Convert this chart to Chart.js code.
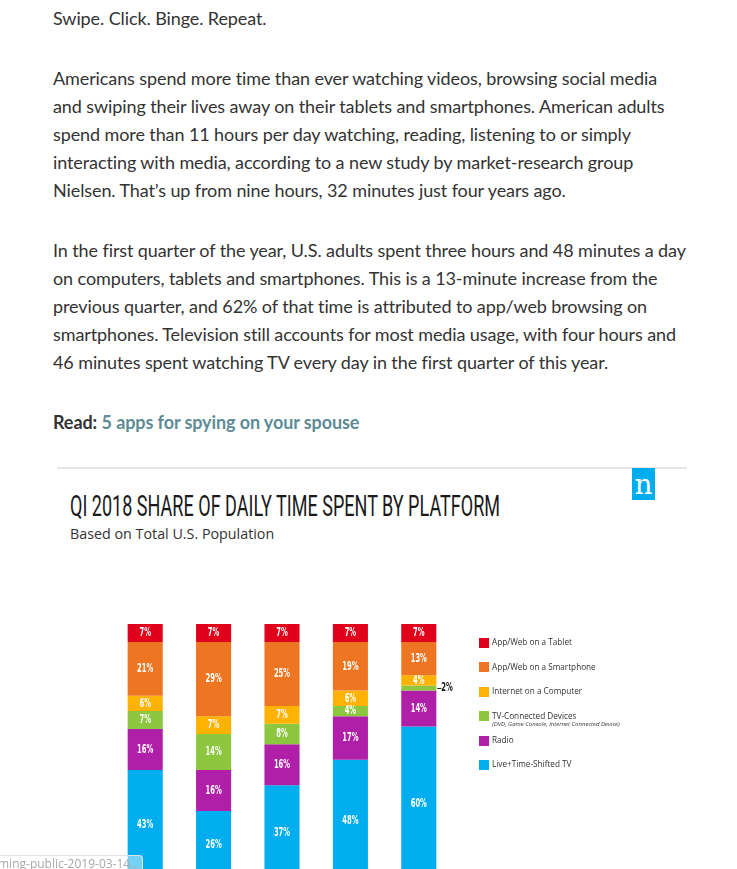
<!DOCTYPE html>
<html>
<head>
<meta charset="utf-8">
<script src="https://cdn.jsdelivr.net/npm/chart.js@4.4.1/dist/chart.umd.min.js"></script>
<style>
  html, body { margin:0; padding:0; background:#fff; overflow:hidden; width:737px; height:869px; }
  body { position:relative; font-family: Lato, "Open Sans", sans-serif; color:#333; }
  .article { position:absolute; left:53px; top:4px; font-size:18px; line-height:28px; white-space:nowrap; letter-spacing:-0.1px; }
  .article p { margin:0 0 32px 0; }
  .article a { color:#5e8c96; font-weight:bold; text-decoration:none; }
  .rule { position:absolute; left:57px; top:467px; width:630px; height:2px; background:#e3e6e9; }
  .logo { position:absolute; left:632px; top:468px; width:23px; height:32px; background:#00aeef; color:#fff;
          font-family:"DejaVu Serif", "Liberation Serif", serif; font-size:28px; line-height:33px; text-align:center; }
  .title { position:absolute; left:70px; top:491px; font-family:Roboto, sans-serif; font-size:29px; line-height:30px;
           color:#1a1a1a; white-space:nowrap; transform-origin:0 0; }
  .subtitle { position:absolute; left:70px; top:524px; font-family:"Open Sans", sans-serif; font-size:14.3px; color:#333; white-space:nowrap; }
  #chartWrap { position:absolute; left:0; top:600px; width:737px; height:300px; }
  .status { position:absolute; left:0; top:855px; width:142px; height:18px; background:rgba(255,255,255,0.45);
            border-top:1px solid #e2e2e2; border-right:1px solid #e2e2e2; border-top-right-radius:4px; overflow:hidden;
            font-family:"Open Sans", sans-serif; font-size:12px; line-height:16px; color:#a8a8a8; white-space:nowrap; }
  .status span { position:relative; left:-2px; }
</style>
</head>
<body>
<div class="article">
  <p>Swipe. Click. Binge. Repeat.</p>
  <p>Americans spend more time than ever watching videos, browsing social media<br>and swiping their lives away on their tablets and smartphones. American adults<br>spend more than 11 hours per day watching, reading, listening to or simply<br>interacting with media, according to a new study by market-research group<br>Nielsen. That’s up from nine hours, 32 minutes just four years ago.</p>
  <p>In the first quarter of the year, U.S. adults spent three hours and 48 minutes a day<br>on computers, tablets and smartphones. This is a 13-minute increase from the<br>previous quarter, and 62% of that time is attributed to app/web browsing on<br>smartphones. Television still accounts for most media usage, with four hours and<br>46 minutes spent watching TV every day in the first quarter of this year.</p>
  <p><b>Read:</b> <a href="#">5 apps for spying on your spouse</a></p>
</div>
<div class="rule"></div>
<div class="logo">n</div>
<div class="title" id="title">QI 2018 SHARE OF DAILY TIME SPENT BY PLATFORM</div>
<div class="subtitle">Based on Total U.S. Population</div>
<div id="chartWrap"><canvas id="c" width="737" height="300"></canvas></div>
<div class="status"><span>ming-public-2019-03-14...</span></div>
<script>
// ---- data ----
const categories = ["Bar 1", "Bar 2", "Bar 3", "Bar 4", "Bar 5"];
const seriesNames = ["App/Web on a Tablet", "App/Web on a Smartphone", "Internet on a Computer",
                     "TV-Connected Devices", "Radio", "Live+Time-Shifted TV"];
const tablet      = [7, 7, 7, 7, 7];
const smartphone  = [21, 29, 25, 19, 13];
const computer    = [6, 7, 7, 6, 4];
const tvConnected = [7, 14, 8, 4, 2];
const radio       = [16, 16, 16, 17, 14];
const liveTV      = [43, 26, 37, 48, 60];
const seriesColors = ["#e0001b", "#ee7623", "#ffb300", "#8dc63f", "#b01fa8", "#00aeef"];
const tvConnectedNote = "(DVD, Game Console, Internet Connected Device)";

// fit title width
const t = document.getElementById('title');
t.style.transform = 'scaleX(' + (430 / t.scrollWidth) + ')';

const seriesValues = [tablet, smartphone, computer, tvConnected, radio, liveTV];

const labelPlugin = {
  id: 'segLabels',
  afterDatasetsDraw(chart) {
    const ctx = chart.ctx;
    chart.data.datasets.forEach((ds, di) => {
      const meta = chart.getDatasetMeta(di);
      meta.data.forEach((bar, i) => {
        const v = ds.data[i];
        const cy = (bar.y + bar.base) / 2;
        ctx.save();
        ctx.textBaseline = 'middle';
        ctx.font = 'bold 13px "DejaVu Sans Condensed", "DejaVu Sans", sans-serif';
        if (v < 3) {
          const xr = bar.x + bar.width / 2;
          ctx.strokeStyle = '#222';
          ctx.lineWidth = 1;
          ctx.beginPath(); ctx.moveTo(xr + 1, cy + 0.5); ctx.lineTo(xr + 5, cy + 0.5); ctx.stroke();
          ctx.fillStyle = '#111';
          ctx.translate(xr + 5, cy);
          ctx.scale(0.58, 1);
          ctx.textAlign = 'left';
          ctx.fillText(v + '%', 0, 0);
        } else {
          ctx.fillStyle = '#fff';
          ctx.translate(bar.x, cy);
          ctx.scale(0.58, 1);
          ctx.textAlign = 'center';
          ctx.fillText(v + '%', 0, 0);
        }
        ctx.restore();
      });
    });
    // legend
    const top = chart.canvas.parentNode.offsetTop;
    chart.data.datasets.forEach((ds, di) => {
      const y = 643 + di * 24.4 - top;
      ctx.save();
      ctx.fillStyle = ds.backgroundColor;
      ctx.fillRect(479, Math.round(y - 5), 10, 10);
      ctx.fillStyle = '#333';
      ctx.font = '8.2px "Open Sans", sans-serif';
      ctx.textBaseline = 'middle';
      ctx.textAlign = 'left';
      ctx.fillText(ds.label, 492, y);
      if (di === 3) {
        ctx.font = 'italic 6px "Open Sans", sans-serif';
        ctx.fillText(tvConnectedNote, 492, y + 8.5);
      }
      ctx.restore();
    });
  }
};

new Chart(document.getElementById('c'), {
  type: 'bar',
  data: {
    labels: categories,
    datasets: seriesValues.map((vals, k) => ({
      label: seriesNames[k],
      data: vals,
      backgroundColor: seriesColors[k],
      borderWidth: 0,
      categoryPercentage: 1,
      barPercentage: 0.513
    }))
  },
  options: {
    responsive: false,
    animation: false,
    devicePixelRatio: 1,
    layout: { padding: { left: 111, right: 284, top: 24, bottom: 20 } },
    scales: {
      x: { display: false, stacked: true },
      y: { display: false, stacked: true, reverse: true, min: 0, max: 100 }
    },
    plugins: { legend: { display: false }, tooltip: { enabled: false } }
  },
  plugins: [labelPlugin]
});
</script>
</body>
</html>
